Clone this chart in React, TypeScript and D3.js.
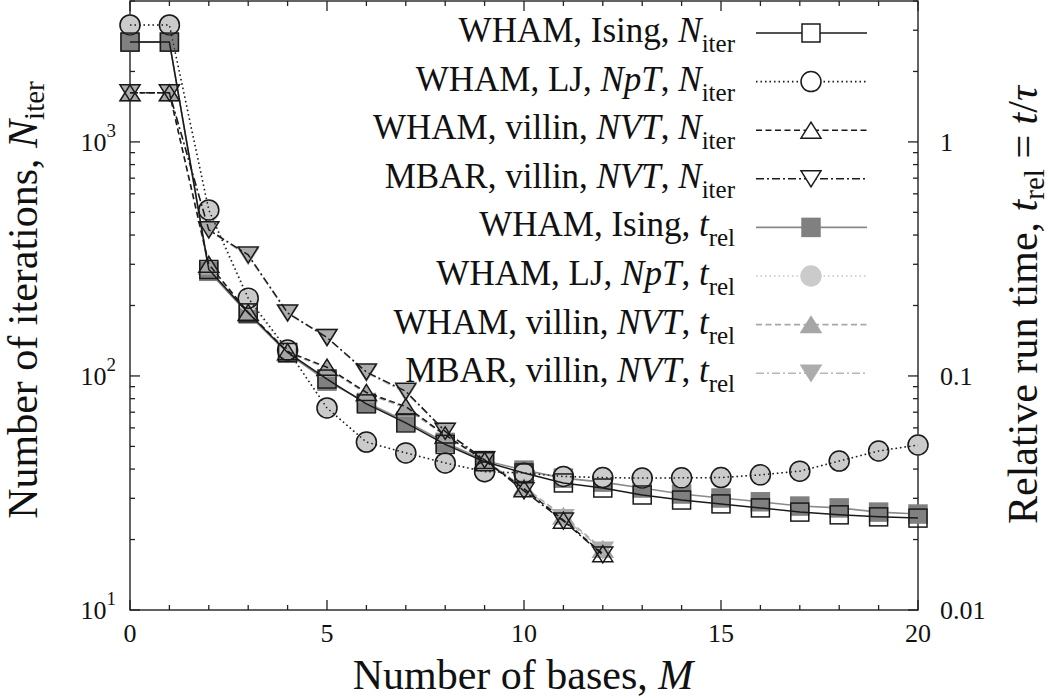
import React from 'react';
import * as d3 from 'd3';

// number of bases M
const basesAll = [0, 1, 2, 3, 4, 5, 6, 7, 8, 9, 10, 11, 12, 13, 14, 15, 16, 17, 18, 19, 20];
const basesVillin = [0, 1, 2, 3, 4, 5, 6, 7, 8, 9, 10, 11, 12];

// N_iter series
const isingNiter = [2670, 2670, 285, 186, 126, 97, 76, 63, 51, 43, 38.5, 34.9, 33.2, 31.0, 29.5, 28.4, 27.3, 26.2, 25.5, 25.0, 24.7];
const ljNiter = [3160, 3160, 512, 215, 129, 73, 52.2, 46.9, 42.5, 39, 38.5, 37.2, 36.8, 36.6, 36.7, 36.8, 37.8, 39.2, 43.3, 47.8, 50.7];
const villinWhamNiter = [1620, 1620, 300, 187, 127, 109, 85, 74, 56, 43.5, 33, 24.2, 17.4];
const villinMbarNiter = [1620, 1620, 421, 329, 186, 146, 104, 86, 58, 43.8, 32.3, 24.0, 17.2];

// t_rel series
const isingTrel = [2.67, 2.67, 0.28, 0.184, 0.125, 0.095, 0.077, 0.064, 0.052, 0.0435, 0.0396, 0.0366, 0.0352, 0.0332, 0.0313, 0.0301, 0.029, 0.0278, 0.0273, 0.0262, 0.0257];
const ljTrel = [3.16, 3.16, 0.505, 0.21, 0.128, 0.073, 0.052, 0.047, 0.0425, 0.039, 0.0385, 0.0372, 0.0368, 0.0366, 0.0367, 0.0368, 0.0378, 0.0392, 0.0433, 0.0478, 0.0507];
const villinWhamTrel = [1.62, 1.62, 0.295, 0.185, 0.126, 0.108, 0.084, 0.073, 0.0555, 0.0435, 0.0335, 0.0252, 0.0182];
const villinMbarTrel = [1.62, 1.62, 0.42, 0.325, 0.185, 0.146, 0.103, 0.085, 0.058, 0.044, 0.033, 0.0248, 0.018];

// axis ticks
const xMajor = [0, 5, 10, 15, 20];
const leftMajor = [10, 100, 1000];
const leftLabels = ['1', '2', '3'];
const rightMajor = [0.01, 0.1, 1];
const rightLabels = ['0.01', '0.1', '1'];

const legendSystems = ['WHAM, Ising, ', 'WHAM, LJ, ', 'WHAM, villin, ', 'MBAR, villin, '];
const legendEnsembles = ['', 'NpT', 'NVT', 'NVT'];

type Shape = 'square' | 'circle' | 'up' | 'down';

const FONT = "'Liberation Serif', 'Times New Roman', Times, serif";

const Marker: React.FC<{ shape: Shape; x: number; y: number; fill: string; stroke: string }> = ({ shape, x, y, fill, stroke }) => {
  const sw = 1.5;
  if (shape === 'square') return <rect x={x - 9} y={y - 9} width={18} height={18} fill={fill} stroke={stroke} strokeWidth={sw} />;
  if (shape === 'circle') return <circle cx={x} cy={y} r={10} fill={fill} stroke={stroke} strokeWidth={sw} />;
  if (shape === 'up') return <path d={`M${x},${y - 8}L${x + 10},${y + 8}L${x - 10},${y + 8}Z`} fill={fill} stroke={stroke} strokeWidth={sw} />;
  return <path d={`M${x},${y + 8}L${x + 10},${y - 8}L${x - 10},${y - 8}Z`} fill={fill} stroke={stroke} strokeWidth={sw} />;
};

export default function App() {
  const width = 1050;
  const height = 699;
  const x = d3.scaleLinear().domain([0, 20]).range([130, 918]);
  const yL = d3.scaleLog().domain([10, 4000]).range([610, 1]);
  const yR = d3.scaleLog().domain([0.01, 4]).range([610, 1]);
  const top = 1, bottom = 610, left = 130, right = 918;

  const nSeries = [
    { xs: basesAll, ys: isingNiter, shape: 'square' as Shape, dash: 'none' },
    { xs: basesAll, ys: ljNiter, shape: 'circle' as Shape, dash: '1.5,3' },
    { xs: basesVillin, ys: villinWhamNiter, shape: 'up' as Shape, dash: '6,3.5' },
    { xs: basesVillin, ys: villinMbarNiter, shape: 'down' as Shape, dash: '8,3,2,3' },
  ];
  const tSeries = [
    { xs: basesAll, ys: isingTrel, shape: 'square' as Shape, dash: 'none', line: '#8a8a8a', fill: '#808080' },
    { xs: basesAll, ys: ljTrel, shape: 'circle' as Shape, dash: '1.5,3', line: '#c4c4c4', fill: '#cbcbcb' },
    { xs: basesVillin, ys: villinWhamTrel, shape: 'up' as Shape, dash: '6,3.5', line: '#a8a8a8', fill: '#a6a6a6' },
    { xs: basesVillin, ys: villinMbarTrel, shape: 'down' as Shape, dash: '8,3,2,3', line: '#b8b8b8', fill: '#acacac' },
  ];

  const lineGen = (ys: number[], xs: number[], sc: d3.ScaleLogarithmic<number, number>) =>
    d3.line<number>().x((_, i) => x(xs[i])).y((d) => sc(d))(ys) || '';

  // ticks
  const xMinor = d3.range(0, 21).filter((v) => !xMajor.includes(v));
  const logMinor = (majors: number[], max: number) => {
    const out: number[] = [];
    majors.forEach((m) => {
      for (let k = 2; k <= 9; k++) if (m * k <= max) out.push(m * k);
    });
    return out;
  };
  const leftMinor = logMinor(leftMajor, 4000);
  const rightMinor = logMinor(rightMajor, 4);

  const legendY0 = 33;
  const legendStep = 48.6;

  return (
    <svg width={width} height={height} style={{ position: 'absolute', left: 0, top: 0, background: '#fff', fontFamily: FONT }}>
      <rect x={0} y={0} width={width} height={height} fill="#fff" />

      {/* ticks */}
      <g stroke="#222" strokeWidth={1.3}>
        {xMajor.map((v) => (
          <g key={'xM' + v}>
            <line x1={x(v)} x2={x(v)} y1={bottom} y2={bottom - 10} />
            <line x1={x(v)} x2={x(v)} y1={top} y2={top + 10} />
          </g>
        ))}
        {xMinor.map((v) => (
          <g key={'xm' + v}>
            <line x1={x(v)} x2={x(v)} y1={bottom} y2={bottom - 5} />
            <line x1={x(v)} x2={x(v)} y1={top} y2={top + 5} />
          </g>
        ))}
        {leftMajor.map((v) => (
          <line key={'lM' + v} x1={left} x2={left + 10} y1={yL(v)} y2={yL(v)} />
        ))}
        {leftMinor.map((v) => (
          <line key={'lm' + v} x1={left} x2={left + 5} y1={yL(v)} y2={yL(v)} />
        ))}
        {rightMajor.map((v) => (
          <line key={'rM' + v} x1={right} x2={right - 10} y1={yR(v)} y2={yR(v)} />
        ))}
        {rightMinor.map((v) => (
          <line key={'rm' + v} x1={right} x2={right - 5} y1={yR(v)} y2={yR(v)} />
        ))}
      </g>

      {/* frame */}
      <rect x={left} y={top} width={right - left} height={bottom - top} fill="none" stroke="#222" strokeWidth={1.4} />

      {/* tick labels */}
      <g fontSize={26} fill="#111" style={{ fontFamily: FONT }}>
        {xMajor.map((v) => (
          <text key={'xl' + v} x={x(v)} y={642} textAnchor="middle">{v}</text>
        ))}
        {leftMajor.map((v, i) => (
          <text key={'ll' + v} x={116} y={yL(v) + 9} textAnchor="end">
            10<tspan fontSize={19} dy={-14}>{leftLabels[i]}</tspan>
          </text>
        ))}
        {rightMajor.map((v, i) => (
          <text key={'rl' + v} x={940} y={yR(v) + 9}>{rightLabels[i]}</text>
        ))}
      </g>

      {/* axis titles */}
      <g fill="#111" style={{ fontFamily: FONT }}>
        <text x={523} y={689} fontSize={42} textAnchor="middle">
          Number of bases, <tspan fontStyle="italic">M</tspan>
        </text>
        <text transform="translate(37,300) rotate(-90)" fontSize={42} textAnchor="middle">
          Number of iterations, <tspan fontStyle="italic">N</tspan>
          <tspan fontSize={29} dy={7}>iter</tspan>
        </text>
        <text transform="translate(1037,305) rotate(-90)" fontSize={42} textAnchor="middle">
          Relative run time, <tspan fontStyle="italic">t</tspan>
          <tspan fontSize={29} dy={7}>rel</tspan>
          <tspan dy={-7}> = </tspan>
          <tspan fontStyle="italic">t</tspan>/<tspan fontStyle="italic">τ</tspan>
        </text>
      </g>

      {/* t_rel series */}
      {tSeries.map((s, i) => (
        <g key={'t' + i}>
          <path d={lineGen(s.ys, s.xs, yR)} fill="none" stroke={s.line} strokeWidth={1.6} strokeDasharray={s.dash} />
          {s.ys.map((v, j) => (
            <Marker key={j} shape={s.shape} x={x(s.xs[j])} y={yR(v)} fill={s.fill} stroke={s.fill} />
          ))}
        </g>
      ))}

      {/* N_iter series */}
      {nSeries.map((s, i) => (
        <g key={'n' + i}>
          <path d={lineGen(s.ys, s.xs, yL)} fill="none" stroke="#1a1a1a" strokeWidth={1.5} strokeDasharray={s.dash} />
          {s.ys.map((v, j) => (
            <Marker key={j} shape={s.shape} x={x(s.xs[j])} y={yL(v)} fill="none" stroke="#1a1a1a" />
          ))}
        </g>
      ))}

      {/* legend */}
      <g fontSize={35} fill="#111" style={{ fontFamily: FONT }}>
        {[0, 1, 2, 3, 4, 5, 6, 7].map((r) => {
          const k = r % 4;
          const isN = r < 4;
          const y = legendY0 + r * legendStep;
          const sN = nSeries[k];
          const sT = tSeries[k];
          return (
            <g key={'lg' + r}>
              <text x={735} y={y + 9} textAnchor="end">
                {legendSystems[k]}
                {legendEnsembles[k] ? <tspan fontStyle="italic">{legendEnsembles[k]}</tspan> : null}
                {legendEnsembles[k] ? ', ' : null}
                <tspan fontStyle="italic">{isN ? 'N' : 't'}</tspan>
                <tspan fontSize={25} dy={10}>{isN ? 'iter' : 'rel'}</tspan>
              </text>
              <line x1={756} x2={867} y1={y} y2={y} stroke={isN ? '#1a1a1a' : sT.line} strokeWidth={1.6} strokeDasharray={isN ? sN.dash : sT.dash} />
              {isN ? (
                <Marker shape={sN.shape} x={811} y={y} fill="#fff" stroke="#1a1a1a" />
              ) : (
                <Marker shape={sT.shape} x={811} y={y} fill={sT.fill} stroke={sT.fill} />
              )}
            </g>
          );
        })}
      </g>
    </svg>
  );
}
